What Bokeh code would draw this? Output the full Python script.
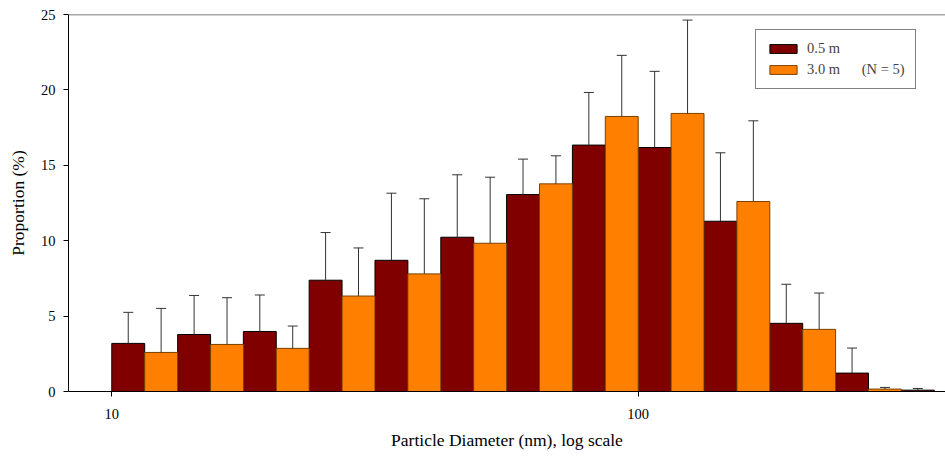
import numpy as np
from bokeh.plotting import figure
from bokeh.models import (Range1d, FixedTicker, Span, Whisker, ColumnDataSource,
                          Legend, LegendItem, TeeHead, NumeralTickFormatter)
from bokeh.embed import file_html
from bokeh.resources import INLINE

# ---- data ----
bin_start_nm = [10.0, 13.34, 17.78, 23.71, 31.62, 42.17, 56.23, 74.99,
                100.0, 133.35, 177.83, 237.14, 316.23]
channels_per_decade = 8

mean_05 = [3.19, 3.78, 3.98, 7.38, 8.70, 10.23, 13.06, 16.34, 16.18, 11.29, 4.52, 1.22, 0.09]
sd_05 = [2.06, 2.59, 2.42, 3.16, 4.45, 4.14, 2.35, 3.49, 5.05, 4.54, 2.59, 1.66, 0.11]

mean_30 = [2.59, 3.12, 2.86, 6.33, 7.80, 9.83, 13.77, 18.24, 18.44, 12.60, 4.12, 0.16]
sd_30 = [2.92, 3.10, 1.48, 3.19, 4.98, 4.38, 1.86, 4.05, 6.19, 5.35, 2.41, 0.11]

x_ticks = [10, 100]
y_ticks = [0, 5, 10, 15, 20, 25]
label_05 = "0.5 m"
label_30 = "3.0 m\u00a0\u00a0\u00a0\u00a0\u00a0\u00a0(N = 5)"

FONT = "Liberation Serif"
DARK = "#800000"
ORANGE = "#FF8000"

# ---- geometry in log space ----
start = np.array(bin_start_nm)
half = 10 ** (1.0 / (2 * channels_per_decade))
full = 10 ** (1.0 / channels_per_decade)

n05 = len(mean_05)
n30 = len(mean_30)
src05 = ColumnDataSource(dict(
    left=start[:n05], right=start[:n05] * half,
    top=mean_05, mid=start[:n05] * half ** 0.5,
    upper=np.array(mean_05) + np.array(sd_05)))
src30 = ColumnDataSource(dict(
    left=start[:n30] * half, right=start[:n30] * full,
    top=mean_30, mid=start[:n30] * half ** 1.5,
    upper=np.array(mean_30) + np.array(sd_30)))

p = figure(width=945, height=457, x_axis_type="log",
           x_range=Range1d(8.275, 383.5), y_range=Range1d(0, 25),
           output_backend="svg", toolbar_location=None,
           min_border_left=68, min_border_right=0, min_border_top=14,
           min_border_bottom=66)
p.grid.visible = False
p.outline_line_color = None
p.background_fill_color = "white"

r05 = p.quad(left="left", right="right", bottom=0, top="top", source=src05,
             fill_color=DARK, line_color="black", line_width=1)
r30 = p.quad(left="left", right="right", bottom=0, top="top", source=src30,
             fill_color=ORANGE, line_color="#7a4000", line_width=1)

for src in (src05, src30):
    w = Whisker(source=src, base="mid", lower="top", upper="upper",
                dimension="height", line_color="#333333", line_width=1,
                upper_head=TeeHead(size=10, line_color="#333333", line_width=1),
                lower_head=None, level="overlay")
    p.add_layout(w)

p.add_layout(Span(location=25, dimension="width", line_color="#555555", line_width=1.4))

# axes
p.xaxis.ticker = FixedTicker(ticks=x_ticks, minor_ticks=[])
p.xaxis.formatter = NumeralTickFormatter(format="0")
p.yaxis.ticker = FixedTicker(ticks=y_ticks, minor_ticks=[])
for ax in (p.xaxis, p.yaxis):
    ax.axis_line_color = "black"
    ax.axis_line_width = 1
    ax.major_tick_line_color = "black"
    ax.major_tick_in = 0
    ax.major_tick_out = 5
    ax.minor_tick_line_color = None
    ax.major_label_text_font = FONT
    ax.major_label_text_font_size = "14.5px"
    ax.major_label_text_color = "black"
    ax.axis_label_text_font = FONT
    ax.axis_label_text_font_size = "17.5px"
    ax.axis_label_text_font_style = "normal"
    ax.axis_label_text_color = "black"

p.xaxis.axis_label = "Particle Diameter (nm), log scale"
p.yaxis.axis_label = "Proportion (%)"
p.xaxis.major_label_standoff = 12
p.xaxis.axis_label_standoff = 8
p.yaxis.major_label_standoff = 8
p.yaxis.axis_label_standoff = 10

legend = Legend(items=[LegendItem(label=label_05, renderers=[r05]),
                       LegendItem(label=label_30, renderers=[r30])],
                location=(687, 302), border_line_color="black", border_line_width=1,
                background_fill_color="white", background_fill_alpha=1,
                label_text_font=FONT, label_text_font_size="14.5px",
                glyph_width=34, glyph_height=11, label_standoff=7,
                padding=10, spacing=4, label_height=15, margin=0)
p.add_layout(legend)

open("out.html", "w").write(file_html(p, INLINE))
